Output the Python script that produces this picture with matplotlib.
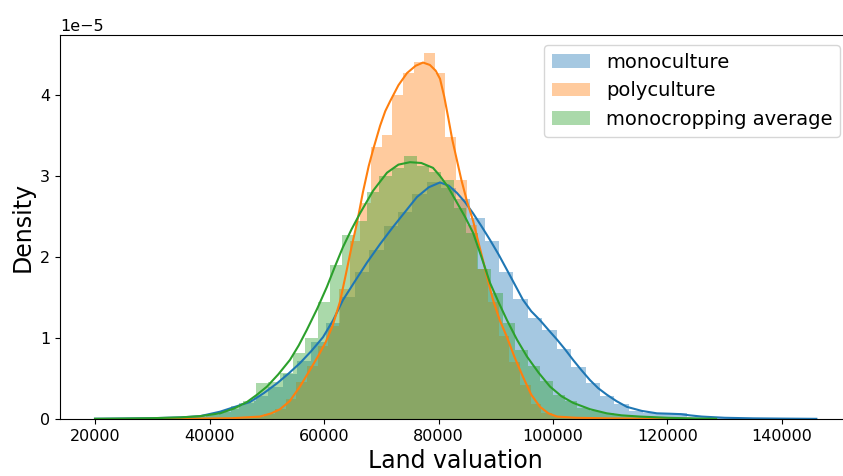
import matplotlib
matplotlib.use("Agg")
import matplotlib.pyplot as plt
import numpy as np

# histogram bins: start of first bin and bin width for each series
mono_start, mono_width = 20000, 2520
poly_start, poly_width = 31000, 1860
avg_start, avg_width = 20000, 2160

# bar heights, density in units of 1e-5
mono_hist = [0.005, 0.005, 0.01, 0.01, 0.02, 0.02, 0.03, 0.04, 0.08, 0.12,
             0.20, 0.28, 0.40, 0.55, 0.72, 0.95, 1.18, 1.50, 1.82, 2.08,
             2.38, 2.55, 2.78, 2.92, 2.85, 2.72, 2.48, 2.20, 1.82, 1.48,
             1.25, 1.10, 0.86, 0.64, 0.44, 0.28, 0.19, 0.10, 0.08, 0.06,
             0.07, 0.03, 0.02, 0.015, 0.01, 0.01, 0.005, 0.005, 0.0, 0.005]
poly_hist = [0.0, 0.0, 0.005, 0.005, 0.01, 0.01, 0.01, 0.02, 0.02, 0.03,
             0.06, 0.12, 0.25, 0.46, 0.66, 0.90, 1.15, 1.60, 2.20, 2.67,
             3.36, 3.50, 4.00, 4.27, 4.41, 4.52, 4.27, 3.48, 2.95, 2.40,
             1.85, 1.45, 1.02, 0.70, 0.42, 0.18, 0.08, 0.04, 0.03, 0.02,
             0.02, 0.01, 0.01, 0.01, 0.005, 0.005, 0.005, 0.0, 0.0, 0.005]
avg_hist = [0.005, 0.005, 0.01, 0.01, 0.01, 0.02, 0.02, 0.02, 0.03, 0.05,
            0.09, 0.16, 0.22, 0.44, 0.46, 0.57, 0.81, 1.00, 1.45, 1.90,
            2.27, 2.45, 2.80, 3.00, 3.10, 3.25, 3.12, 3.05, 2.95, 2.60,
            2.30, 1.85, 1.55, 1.18, 0.85, 0.66, 0.47, 0.30, 0.22, 0.14,
            0.10, 0.07, 0.05, 0.04, 0.03, 0.02, 0.01, 0.01, 0.005, 0.005]

# kde curves (x, density in 1e-5)
mono_kde_x = [20000, 25000, 30000, 35000, 38340, 41830, 44000, 47070, 49500, 51790,
              53800, 55800, 57800, 59830, 61600, 63320, 65400, 67500, 69800, 72050,
              74200, 76240, 78300, 80260, 81800, 83230, 84600, 86030, 87500, 89000,
              90500, 91960, 93400, 94760, 96200, 97730, 99200, 100700, 102100, 103500,
              105000, 106460, 107900, 109400, 111100, 112900, 115500, 118150, 120500, 122300,
              123900, 126000, 130000, 135000, 140000, 146000]
mono_kde_y = [0.003, 0.006, 0.01, 0.02, 0.035, 0.09, 0.14, 0.21, 0.32, 0.44,
              0.56, 0.69, 0.84, 1.01, 1.22, 1.47, 1.70, 1.93, 2.16, 2.37,
              2.56, 2.74, 2.86, 2.92, 2.88, 2.79, 2.68, 2.54, 2.38, 2.21,
              2.03, 1.84, 1.65, 1.47, 1.33, 1.22, 1.10, 0.98, 0.86, 0.73,
              0.60, 0.48, 0.38, 0.30, 0.22, 0.15, 0.10, 0.07, 0.065, 0.06,
              0.045, 0.03, 0.015, 0.008, 0.005, 0.002]

poly_kde_x = [32000, 38000, 44000, 48800, 50800, 52300, 54000, 55800, 57500, 59000,
              60300, 61500, 62800, 63800, 64800, 65760, 66800, 67800, 68560, 69800,
              70700, 71530, 73000, 74500, 76000, 77300, 78500, 79500, 80260, 81000,
              81700, 82400, 83200, 84000, 85000, 86030, 86900, 87770, 88600, 89520,
              90700, 91960, 93300, 94760, 96200, 97730, 99200, 100700, 104000, 110000,
              118000, 124000]
poly_kde_y = [0.002, 0.005, 0.01, 0.03, 0.07, 0.12, 0.22, 0.40, 0.60, 0.78,
              0.95, 1.15, 1.45, 1.78, 2.12, 2.42, 2.80, 3.12, 3.32, 3.62,
              3.80, 3.92, 4.12, 4.27, 4.36, 4.40, 4.37, 4.30, 4.20, 3.98,
              3.72, 3.45, 3.20, 2.95, 2.68, 2.45, 2.20, 1.96, 1.72, 1.47,
              1.22, 1.01, 0.76, 0.52, 0.30, 0.15, 0.07, 0.03, 0.015, 0.008,
              0.004, 0.002]

avg_kde_x = [20000, 25000, 30000, 35000, 38340, 41830, 44300, 46550, 48300, 50040,
             52000, 54060, 55600, 57000, 58800, 60500, 61900, 63300, 64800, 66300,
             68600, 71000, 73000, 75020, 77000, 79040, 80260, 81700, 83230, 84600,
             86030, 87500, 89000, 90500, 91960, 93700, 95460, 97500, 99480, 101500,
             103500, 106500, 109400, 112000, 115200, 120000, 125000, 128500]
avg_kde_y = [0.003, 0.006, 0.01, 0.02, 0.035, 0.07, 0.13, 0.21, 0.30, 0.40,
             0.55, 0.73, 0.91, 1.10, 1.36, 1.63, 1.88, 2.12, 2.34, 2.54,
             2.82, 3.04, 3.14, 3.17, 3.16, 3.10, 3.00, 2.86, 2.67, 2.50,
             2.30, 2.00, 1.68, 1.44, 1.22, 0.98, 0.77, 0.57, 0.40, 0.28,
             0.20, 0.12, 0.07, 0.045, 0.03, 0.015, 0.006, 0.003]

labels = ["monoculture", "polyculture", "monocropping average"]
colors = ["#1f77b4", "#ff7f0e", "#2ca02c"]
scale = 1e-5

fig = plt.figure(figsize=(8.43, 4.76), dpi=100)
ax = fig.add_axes([60 / 843, 57 / 476, 790 / 843, 384 / 476])

series = [
    (mono_start, mono_width, mono_hist, mono_kde_x, mono_kde_y),
    (poly_start, poly_width, poly_hist, poly_kde_x, poly_kde_y),
    (avg_start, avg_width, avg_hist, avg_kde_x, avg_kde_y),
]
for (start, width, hist, kx, ky), lab, col in zip(series, labels, colors):
    left = start + width * np.arange(len(hist))
    ax.bar(left, np.array(hist) * scale, width=width, align="edge",
           color=col, alpha=0.4, linewidth=0, label=lab)
    ax.plot(kx, np.array(ky) * scale, color=col, lw=1.5)

ax.set_xlim(13886, 151878)
ax.set_ylim(0, 4.74e-5)
ax.set_xticks([20000, 40000, 60000, 80000, 100000, 120000, 140000])
ax.tick_params(labelsize=11.5)
ax.yaxis.get_offset_text().set_fontsize(11.5)
ax.set_xlabel("Land valuation", fontsize=17)
ax.set_ylabel("Density", fontsize=17)
ax.legend(loc="upper right", fontsize=14)

fig.savefig("out.png", dpi=100)
